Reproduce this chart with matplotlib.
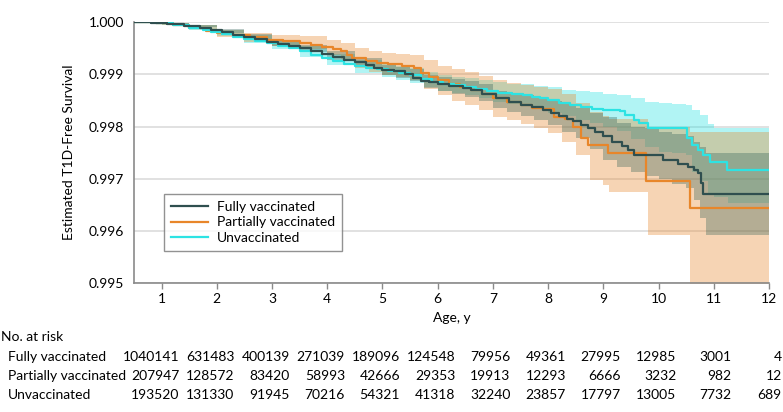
import matplotlib
matplotlib.use("Agg")
import matplotlib.pyplot as plt
from matplotlib import font_manager
import matplotlib.transforms as mtransforms

# ---------------- data: survival curves ----------------
F_age = [0.5, 0.8, 1.1, 1.4, 1.7, 1.9, 2.1, 2.3, 2.5, 2.7, 2.9, 3.1, 3.3, 3.5, 3.7, 3.9, 4.1, 4.3, 4.5,
         4.7, 4.85, 5.0, 5.2, 5.4, 5.55, 5.7, 5.85, 6.0, 6.2, 6.45, 6.6, 6.8, 7.05, 7.3, 7.5, 7.7, 7.9,
         8.05, 8.2, 8.35, 8.45, 8.6, 8.72, 8.85, 9.0, 9.15, 9.33, 9.45, 9.55, 10.08, 10.36, 10.54, 10.65,
         10.72, 10.76, 10.8, 12.0]
F_surv = [1.0, 0.99999, 0.99996, 0.99993, 0.99989, 0.99985, 0.99981, 0.99976, 0.99972, 0.99968, 0.99963,
          0.99959, 0.99955, 0.99950, 0.99945, 0.99940, 0.99934, 0.99928, 0.99923, 0.99918, 0.99913, 0.99909,
          0.99906, 0.99900, 0.99894, 0.99887, 0.99885, 0.99882, 0.99878, 0.99874, 0.99870, 0.99863, 0.99854,
          0.99847, 0.99842, 0.99837, 0.99831, 0.99826, 0.99820, 0.99815, 0.99810, 0.99803, 0.99797, 0.99789,
          0.99781, 0.99771, 0.99762, 0.99755, 0.99745, 0.99736, 0.99728, 0.99723, 0.99717, 0.99711, 0.99692,
          0.99671, 0.99671]

P_age = [0.5, 0.9, 1.2, 1.5, 1.8, 2.0, 2.3, 2.6, 2.9, 3.2, 3.5, 3.7, 3.9, 4.1, 4.25, 4.35, 4.45, 4.7,
         4.9, 5.1, 5.35, 5.57, 5.7, 5.85, 6.0, 6.2, 6.4, 6.6, 6.8, 7.0, 7.25, 7.5, 7.7, 7.9, 8.1, 8.3,
         8.45, 8.6, 8.72, 9.08, 9.78, 10.57, 12.0]
P_surv = [1.0, 0.99998, 0.99994, 0.99990, 0.99983, 0.99979, 0.99975, 0.99971, 0.99966, 0.99964, 0.99961,
          0.99957, 0.99953, 0.99949, 0.99944, 0.99937, 0.99931, 0.99925, 0.99921, 0.99920, 0.99917, 0.99912,
          0.99902, 0.99896, 0.99889, 0.99882, 0.99876, 0.99870, 0.99862, 0.99854, 0.99848, 0.99842, 0.99836,
          0.99834, 0.99819, 0.99815, 0.99800, 0.99778, 0.99765, 0.99749, 0.99695, 0.99644, 0.99644]

U_age = [0.5, 0.9, 1.2, 1.5, 1.75, 1.9, 2.1, 2.3, 2.5, 2.7, 2.9, 3.1, 3.3, 3.5, 3.7, 3.9, 4.1, 4.3, 4.5,
         4.7, 4.9, 5.1, 5.3, 5.5, 5.7, 5.9, 6.1, 6.3, 6.5, 6.7, 6.9, 7.1, 7.35, 7.55, 7.7, 7.85, 8.0, 8.2,
         8.4, 8.6, 8.8, 9.0, 9.3, 9.4, 9.55, 9.65, 9.8, 10.52, 10.6, 10.72, 10.8, 10.93, 11.24, 12.0]
U_surv = [1.0, 0.99998, 0.99994, 0.99990, 0.99985, 0.99982, 0.99977, 0.99972, 0.99968, 0.99964, 0.99960,
          0.99955, 0.99950, 0.99944, 0.99938, 0.99932, 0.99926, 0.99920, 0.99916, 0.99913, 0.99910, 0.99907,
          0.99902, 0.99898, 0.99891, 0.99886, 0.99882, 0.99879, 0.99876, 0.99872, 0.99868, 0.99865, 0.99862,
          0.99861, 0.99857, 0.99854, 0.99851, 0.99845, 0.99841, 0.99838, 0.99834, 0.99831, 0.99829, 0.99822,
          0.99812, 0.99806, 0.99797, 0.99778, 0.99765, 0.99755, 0.99745, 0.99733, 0.99717, 0.99717]

# ---------------- data: 95% confidence bands ----------------
FB_age = [0.5, 1.0, 1.5, 2.0, 2.5, 3.0, 3.5, 4.0, 4.5, 5.0, 5.25, 5.5, 5.75, 6.0, 6.25, 6.5, 6.75, 7.0,
          7.25, 7.5, 7.75, 8.0, 8.25, 8.5, 8.75, 9.0, 9.25, 9.5, 9.75, 10.0, 10.25, 10.5, 10.65, 10.75,
          10.85, 12.0]
F_hi = [1.0, 0.99998, 0.99995, 0.99988, 0.99977, 0.99967, 0.99957, 0.99944, 0.99932, 0.99919, 0.99915,
        0.99910, 0.99899, 0.99896, 0.99892, 0.99888, 0.99881, 0.99869, 0.99865, 0.99860, 0.99855, 0.99849,
        0.99843, 0.99836, 0.99826, 0.99818, 0.99806, 0.99800, 0.99797, 0.99790, 0.99785, 0.99781, 0.99770,
        0.99760, 0.99749, 0.99749]
F_lo = [1.0, 0.99996, 0.99991, 0.99980, 0.99967, 0.99955, 0.99943, 0.99928, 0.99914, 0.99899, 0.99894,
        0.99887, 0.99874, 0.99868, 0.99862, 0.99857, 0.99849, 0.99836, 0.99828, 0.99820, 0.99812, 0.99803,
        0.99790, 0.99778, 0.99757, 0.99735, 0.99722, 0.99712, 0.99706, 0.99700, 0.99690, 0.99683, 0.99660,
        0.99625, 0.99593, 0.99593]

PB_age = [0.5, 1.0, 1.5, 2.0, 2.5, 3.0, 3.5, 4.0, 4.25, 4.5, 4.75, 5.0, 5.25, 5.5, 5.75, 6.0, 6.25, 6.5,
          6.75, 7.0, 7.25, 7.5, 7.75, 8.0, 8.25, 8.5, 8.75, 9.0, 9.1, 9.8, 10.57, 12.0]
P_hi = [1.0, 0.99999, 0.99995, 0.99985, 0.99980, 0.99975, 0.99973, 0.99966, 0.99961, 0.99950, 0.99945,
        0.99941, 0.99939, 0.99937, 0.99927, 0.99917, 0.99910, 0.99904, 0.99897, 0.99889, 0.99884, 0.99879,
        0.99875, 0.99872, 0.99862, 0.99845, 0.99828, 0.99820, 0.99815, 0.99799, 0.99790, 0.99790]
P_lo = [1.0, 0.99995, 0.99987, 0.99972, 0.99963, 0.99954, 0.99948, 0.99937, 0.99929, 0.99912, 0.99905,
        0.99899, 0.99895, 0.99889, 0.99873, 0.99861, 0.99850, 0.99842, 0.99831, 0.99819, 0.99812, 0.99805,
        0.99797, 0.99788, 0.99770, 0.99745, 0.99698, 0.99688, 0.99675, 0.99592, 0.99400, 0.99400]

UB_age = [0.5, 1.0, 1.5, 2.0, 2.5, 3.0, 3.5, 4.0, 4.5, 5.0, 5.25, 5.5, 5.75, 6.0, 6.25, 6.5, 6.75, 7.0,
          7.25, 7.5, 7.75, 8.0, 8.25, 8.5, 8.75, 9.0, 9.25, 9.5, 9.75, 10.0, 10.25, 10.5, 10.6, 10.75,
          10.9, 11.0, 11.25, 12.0]
U_hi = [1.0, 0.99999, 0.99994, 0.99986, 0.99976, 0.99966, 0.99954, 0.99940, 0.99927, 0.99921, 0.99917,
        0.99912, 0.99905, 0.99899, 0.99896, 0.99893, 0.99889, 0.99885, 0.99882, 0.99881, 0.99878, 0.99875,
        0.99871, 0.99868, 0.99866, 0.99863, 0.99860, 0.99854, 0.99848, 0.99845, 0.99843, 0.99841, 0.99832,
        0.99822, 0.99805, 0.99797, 0.99797, 0.99797]
U_lo = [1.0, 0.99995, 0.99986, 0.99974, 0.99960, 0.99948, 0.99934, 0.99918, 0.99903, 0.99895, 0.99890,
        0.99884, 0.99875, 0.99869, 0.99864, 0.99860, 0.99854, 0.99847, 0.99843, 0.99840, 0.99834, 0.99827,
        0.99820, 0.99812, 0.99806, 0.99799, 0.99792, 0.99776, 0.99760, 0.99752, 0.99750, 0.99745, 0.99712,
        0.99695, 0.99668, 0.99665, 0.99653, 0.99653]

# ---------------- data: labels and number at risk ----------------
groups = ["Fully vaccinated", "Partially vaccinated", "Unvaccinated"]
risk_ages = [1, 2, 3, 4, 5, 6, 7, 8, 9, 10, 11, 12]
risk_full = ["1040141", "631483", "400139", "271039", "189096", "124548", "79956", "49361", "27995",
             "12985", "3001", "4"]
risk_partial = ["207947", "128572", "83420", "58993", "42666", "29353", "19913", "12293", "6666",
                "3232", "982", "12"]
risk_unvax = ["193520", "131330", "91945", "70216", "54321", "41318", "32240", "23857", "17797",
              "13005", "7732", "689"]
yticks = [0.995, 0.996, 0.997, 0.998, 0.999, 1.000]

# ---------------- style ----------------
avail = {f.name for f in font_manager.fontManager.ttflist}
fam = [f for f in ["Liberation Sans Narrow", "Lato", "DejaVu Sans"] if f in avail]
plt.rcParams["font.family"] = fam
FS = 10

c_full = "#2F4F4F"
c_full_band = "#2F5F55"
c_part = "#E8862A"
c_unv = "#2DE3E3"

fig = plt.figure(figsize=(7.83, 4.12), dpi=100)
W, H = 783, 412
ax = fig.add_axes([134 / W, 1 - 283 / H, (769 - 134) / W, (283 - 22.3) / H])

# bands
ax.fill_between(UB_age, U_lo, U_hi, step="post", color=c_unv, alpha=0.37, lw=0)
ax.fill_between(PB_age, P_lo, P_hi, step="post", color=c_part, alpha=0.35, lw=0)
ax.fill_between(FB_age, F_lo, F_hi, step="post", color=c_full_band, alpha=0.33, lw=0)

# lines
ax.step(F_age, F_surv, where="post", color=c_full, lw=1.6, label=groups[0], zorder=4)
ax.step(P_age, P_surv, where="post", color=c_part, lw=1.6, label=groups[1], zorder=3)
ax.step(U_age, U_surv, where="post", color=c_unv, lw=1.6, label=groups[2], zorder=3.5)

ax.set_xlim(0.5, 12)
ax.set_ylim(0.995, 1.000)
ax.set_yticks(yticks)
ax.set_yticklabels([f"{v:.3f}" for v in yticks])
ax.set_xticks(risk_ages)
ax.set_xticklabels([str(a) for a in risk_ages])
ax.grid(axis="y", color="#DCDCDC", lw=1.2)
ax.set_axisbelow(True)
for s in ["top", "right"]:
    ax.spines[s].set_visible(False)
for s in ["left", "bottom"]:
    ax.spines[s].set_color("#8A8A8A")
    ax.spines[s].set_linewidth(1.2)
ax.tick_params(axis="y", length=0, pad=7, labelsize=FS, colors="black")
ax.tick_params(axis="x", length=4, width=1, color="#8A8A8A", pad=3, labelsize=FS)
ax.set_ylabel("Estimated T1D-Free Survival", fontsize=FS, labelpad=10)
ax.set_xlabel("Age, y", fontsize=FS, labelpad=5)

leg = ax.legend(loc="upper left", bbox_to_anchor=((164 - 134) / 635, (283 - 194) / 260.7),
                borderaxespad=0, frameon=True, fancybox=False, fontsize=FS, handlelength=2.7,
                borderpad=0.5, labelspacing=0.25, handletextpad=0.6)
leg.get_frame().set_edgecolor("#777777")
leg.get_frame().set_linewidth(1.0)

# number at risk table
fig.text(1 / W, 1 - 337 / H, "No. at risk", fontsize=FS, va="center", ha="left")
trans = mtransforms.blended_transform_factory(ax.transData, fig.transFigure)
rows = [risk_full, risk_partial, risk_unvax]
row_y = [357, 376, 395]
for name, vals, yy in zip(groups, rows, row_y):
    fig.text(8 / W, 1 - yy / H, name, fontsize=FS, va="center", ha="left")
    for a, v in zip(risk_ages, vals):
        xoff = 0.32 if a < 12 else 0.23
        ax.text(a + xoff, 1 - yy / H, v, transform=trans, fontsize=FS, va="center", ha="right")

fig.savefig("out.png", dpi=100)
